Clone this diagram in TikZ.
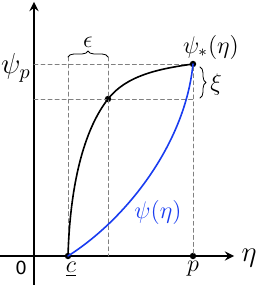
\documentclass[tikz,border=0pt]{standalone}
\usepackage{fontspec}
\newfontfamily\zerofont{DejaVu Sans}
\usetikzlibrary{decorations.pathreplacing}
\definecolor{curveblue}{RGB}{25,60,240}
\begin{document}
\begin{tikzpicture}[x=0.0175cm, y=0.0175cm, line join=round, line cap=round, >=stealth,
	axis/.style={line width=1pt},
	guide/.style={gray, line width=0.4pt, dash pattern=on 2pt off 1.5pt},
	curve/.style={line width=0.8pt},
	dot/.style={circle, fill=black, inner sep=0pt, minimum size=3.2pt}]
	\useasboundingbox (0,0) rectangle (256,285);
	% axes
	\coordinate (xstart) at (0,29);
	\coordinate (xend) at (234,29);
	\coordinate (ystart) at (34,0);
	\coordinate (yend) at (34,283);
	\draw[->, axis] (xstart) -- (xend);
	\draw[->, axis] (ystart) -- (yend);
	\node (eta) at (249,27) {\Large$\eta$};
	\node (zero) at (21,17) {\zerofont\small 0};
	% points
	\node[dot] (c) at (68,29) {};
	\node[dot] (p) at (193,29) {};
	\node[dot] (top) at (193,221) {};
	\node[dot] (mid) at (108,186) {};
	\coordinate (ypsip) at (34,221);
	\coordinate (ymid) at (34,186);
	\coordinate (midend) at (193,186);
	\coordinate (ctop) at (68,228);
	\coordinate (mtop) at (108,228);
	\coordinate (cbot) at (68,29);
	\coordinate (mbot) at (108,29);
	\node (clabel) at (71,16) {\large$\underline{c}$};
	\node (plabel) at (193,16) {\large$p$};
	\node (psip) at (16,217) {\Large$\psi_p$};
	% dashed guides
	\draw[guide] (ypsip) -- (top.center) -- (p.center);
	\draw[guide] (ymid) -- (midend);
	\draw[guide] (ctop) -- (cbot);
	\draw[guide] (mtop) -- (mbot);
	% braces
	\draw[decorate, decoration={brace, amplitude=3pt}] (ctop) -- (mtop);
	\node (eps) at (88,243) {\large$\epsilon$};
	\coordinate (xitop) at (200,218);
	\coordinate (xibot) at (200,187);
	\draw[decorate, decoration={brace, amplitude=3pt}] (xitop) -- (xibot);
	\node (xi) at (216,201) {\large$\xi$};
	% curves
	\draw[curve] (c.center) .. controls (70,99) and (83.4,154.5) .. (mid.center)
		.. controls (126.5,209.6) and (158.3,216.1) .. (top.center);
	\draw[curve, curveblue] (c.center) .. controls (125,65) and (185,140) .. (top.center);
	\node (psistar) at (211,238) {\large$\psi_*(\eta)$};
	\node[curveblue] (psi) at (158,73) {\large$\psi(\eta)$};
\end{tikzpicture}
\end{document}
